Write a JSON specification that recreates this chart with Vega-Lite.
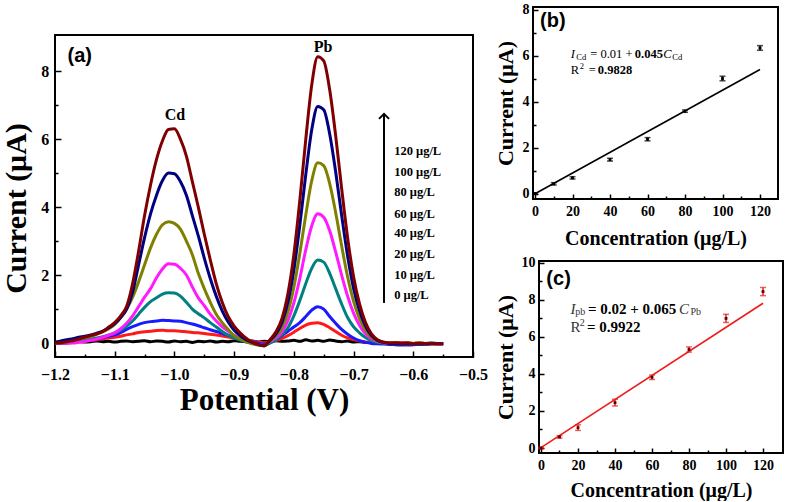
{
"$schema": "https://vega.github.io/schema/vega-lite/v6.json",
"padding": {"left": 0, "top": 1, "right": 0, "bottom": 0},
"background": "white",
"config": {
 "view": {"stroke": "black", "strokeWidth": 2},
 "axis": {"domain": false, "grid": false, "labelFont": "Liberation Serif", "labelFontWeight": "bold", "titleFont": "Liberation Serif", "titleFontWeight": "bold", "labelColor": "black", "titleColor": "black", "tickColor": "black", "tickWidth": 1.5, "labelFlush": false, "labelOverlap": false, "labelBound": false}
},
"columns": 2,
"bounds": "full",
"spacing": -3,
"concat": [
{
 "columns": 1,
 "bounds": "full",
 "spacing": 0,
 "concat": [
 {
  "width": 418, "height": 27,
  "view": {"stroke": null, "fill": "white"},
  "data": {"values": [{}]},
  "mark": {"type": "point", "opacity": 0},
  "encoding": {}
 },
 {
 "width": 418, "height": 322,
 "encoding": {
  "x": {"field": "E", "type": "quantitative", "scale": {"domain": [-1.2, -0.5], "nice": false, "zero": false},
   "axis": {"title": "Potential (V)", "titleFontSize": 31, "labelFontSize": 16, "values": [-1.2,-1.15,-1.1,-1.05,-1.0,-0.95,-0.9,-0.85,-0.8,-0.75,-0.7,-0.65,-0.6,-0.55,-0.5],
    "labelExpr": "abs(datum.value*10 - round(datum.value*10)) < 0.001 ? format(datum.value, '.1f') : ''",
    "tickSize": {"condition": {"test": "abs(datum.value*10 - round(datum.value*10)) < 0.001", "value": -6}, "value": -3},
    "labelPadding": 15.5, "titlePadding": 0}},
  "y": {"field": "I", "type": "quantitative", "scale": {"domain": [-0.41, 9.06], "nice": false, "zero": false},
   "axis": {"title": "Current (μA)", "titleFontSize": 30, "titleY": 173, "labelFontSize": 16, "values": [0,1,2,3,4,5,6,7,8],
    "labelExpr": "datum.value % 2 === 0 ? datum.label : ''",
    "tickSize": {"condition": {"test": "datum.value % 2 === 0", "value": -6}, "value": -3},
    "labelPadding": 12.3, "titlePadding": 9}}
 },
 "layer": [
  {
   "data": {"values": [
    {"E":-1.20,"c0":0.03,"c10":0.0,"c20":0.0,"c40":0.0,"c60":0.0,"c80":0.0,"c100":0.02,"c120":0.0},
    {"E":-1.19,"c0":0.02,"c10":0.0,"c20":0.0,"c40":0.0,"c60":0.0,"c80":0.02,"c100":0.06,"c120":0.01},
    {"E":-1.18,"c0":0.04,"c10":0.0,"c20":0.01,"c40":0.01,"c60":0.0,"c80":0.05,"c100":0.1,"c120":0.04},
    {"E":-1.17,"c0":0.03,"c10":0.02,"c20":0.03,"c40":0.03,"c60":0.0,"c80":0.08,"c100":0.13,"c120":0.07},
    {"E":-1.16,"c0":0.05,"c10":0.04,"c20":0.05,"c40":0.06,"c60":0.02,"c80":0.12,"c100":0.17,"c120":0.12},
    {"E":-1.15,"c0":0.03,"c10":0.06,"c20":0.07,"c40":0.09,"c60":0.05,"c80":0.16,"c100":0.2,"c120":0.18},
    {"E":-1.14,"c0":0.04,"c10":0.08,"c20":0.09,"c40":0.12,"c60":0.08,"c80":0.2,"c100":0.24,"c120":0.22},
    {"E":-1.13,"c0":0.06,"c10":0.1,"c20":0.12,"c40":0.15,"c60":0.12,"c80":0.26,"c100":0.29,"c120":0.27},
    {"E":-1.12,"c0":0.04,"c10":0.13,"c20":0.16,"c40":0.19,"c60":0.17,"c80":0.33,"c100":0.35,"c120":0.34},
    {"E":-1.11,"c0":0.05,"c10":0.15,"c20":0.2,"c40":0.24,"c60":0.23,"c80":0.42,"c100":0.45,"c120":0.47},
    {"E":-1.10,"c0":0.03,"c10":0.17,"c20":0.24,"c40":0.3,"c60":0.3,"c80":0.55,"c100":0.57,"c120":0.6},
    {"E":-1.09,"c0":0.05,"c10":0.2,"c20":0.31,"c40":0.38,"c60":0.42,"c80":0.75,"c100":0.75,"c120":0.8},
    {"E":-1.08,"c0":0.06,"c10":0.24,"c20":0.4,"c40":0.5,"c60":0.58,"c80":1.0,"c100":1.0,"c120":1.08},
    {"E":-1.07,"c0":0.04,"c10":0.27,"c20":0.48,"c40":0.65,"c60":0.8,"c80":1.35,"c100":1.5,"c120":1.75},
    {"E":-1.06,"c0":0.05,"c10":0.31,"c20":0.55,"c40":0.85,"c60":1.07,"c80":1.8,"c100":2.3,"c120":2.7},
    {"E":-1.05,"c0":0.07,"c10":0.33,"c20":0.6,"c40":1.05,"c60":1.35,"c80":2.3,"c100":3.1,"c120":3.75},
    {"E":-1.04,"c0":0.04,"c10":0.35,"c20":0.63,"c40":1.22,"c60":1.6,"c80":2.8,"c100":3.8,"c120":4.65},
    {"E":-1.03,"c0":0.06,"c10":0.37,"c20":0.65,"c40":1.33,"c60":1.92,"c80":3.2,"c100":4.35,"c120":5.4},
    {"E":-1.02,"c0":0.05,"c10":0.38,"c20":0.67,"c40":1.44,"c60":2.18,"c80":3.48,"c100":4.78,"c120":5.95},
    {"E":-1.01,"c0":0.03,"c10":0.36,"c20":0.66,"c40":1.48,"c60":2.33,"c80":3.57,"c100":5.0,"c120":6.28},
    {"E":-1.00,"c0":0.06,"c10":0.36,"c20":0.65,"c40":1.47,"c60":2.32,"c80":3.52,"c100":4.98,"c120":6.3},
    {"E":-0.99,"c0":0.04,"c10":0.35,"c20":0.64,"c40":1.38,"c60":2.2,"c80":3.35,"c100":4.75,"c120":6.0},
    {"E":-0.98,"c0":0.05,"c10":0.33,"c20":0.6,"c40":1.2,"c60":2.0,"c80":3.0,"c100":4.35,"c120":5.5},
    {"E":-0.97,"c0":0.02,"c10":0.31,"c20":0.56,"c40":1.0,"c60":1.65,"c80":2.6,"c100":3.75,"c120":4.75},
    {"E":-0.96,"c0":0.05,"c10":0.3,"c20":0.51,"c40":0.86,"c60":1.33,"c80":2.05,"c100":3.15,"c120":4.0},
    {"E":-0.95,"c0":0.04,"c10":0.28,"c20":0.45,"c40":0.74,"c60":1.1,"c80":1.6,"c100":2.5,"c120":3.2},
    {"E":-0.94,"c0":0.06,"c10":0.26,"c20":0.39,"c40":0.6,"c60":0.85,"c80":1.2,"c100":1.9,"c120":2.45},
    {"E":-0.93,"c0":0.03,"c10":0.24,"c20":0.34,"c40":0.47,"c60":0.65,"c80":0.85,"c100":1.38,"c120":1.75},
    {"E":-0.92,"c0":0.05,"c10":0.21,"c20":0.29,"c40":0.34,"c60":0.48,"c80":0.6,"c100":0.95,"c120":1.2},
    {"E":-0.91,"c0":0.04,"c10":0.18,"c20":0.23,"c40":0.23,"c60":0.35,"c80":0.4,"c100":0.62,"c120":0.78},
    {"E":-0.90,"c0":0.07,"c10":0.15,"c20":0.18,"c40":0.15,"c60":0.23,"c80":0.22,"c100":0.38,"c120":0.5},
    {"E":-0.89,"c0":0.05,"c10":0.12,"c20":0.13,"c40":0.09,"c60":0.14,"c80":0.12,"c100":0.22,"c120":0.3},
    {"E":-0.88,"c0":0.04,"c10":0.09,"c20":0.08,"c40":0.04,"c60":0.07,"c80":0.04,"c100":0.1,"c120":0.14},
    {"E":-0.87,"c0":0.06,"c10":0.06,"c20":0.04,"c40":0.0,"c60":0.02,"c80":-0.02,"c100":0.02,"c120":0.03},
    {"E":-0.86,"c0":0.03,"c10":0.03,"c20":0.0,"c40":-0.04,"c60":-0.04,"c80":-0.06,"c100":-0.04,"c120":-0.04},
    {"E":-0.85,"c0":0.05,"c10":0.01,"c20":-0.03,"c40":-0.07,"c60":-0.07,"c80":-0.08,"c100":-0.08,"c120":-0.08},
    {"E":-0.84,"c0":0.04,"c10":0.03,"c20":0.02,"c40":0.0,"c60":0.04,"c80":0.06,"c100":0.08,"c120":0.1},
    {"E":-0.83,"c0":0.07,"c10":0.07,"c20":0.1,"c40":0.1,"c60":0.15,"c80":0.21,"c100":0.27,"c120":0.33},
    {"E":-0.82,"c0":0.05,"c10":0.14,"c20":0.22,"c40":0.25,"c60":0.33,"c80":0.45,"c100":0.6,"c120":0.72},
    {"E":-0.81,"c0":0.06,"c10":0.22,"c20":0.35,"c40":0.45,"c60":0.66,"c80":0.91,"c100":1.2,"c120":1.45},
    {"E":-0.80,"c0":0.08,"c10":0.32,"c20":0.47,"c40":0.8,"c60":1.18,"c80":1.64,"c100":2.15,"c120":2.6},
    {"E":-0.79,"c0":0.05,"c10":0.43,"c20":0.6,"c40":1.25,"c60":1.9,"c80":2.64,"c100":3.47,"c120":4.2},
    {"E":-0.78,"c0":0.1,"c10":0.53,"c20":0.78,"c40":1.75,"c60":2.75,"c80":3.77,"c100":4.96,"c120":6.0},
    {"E":-0.77,"c0":0.06,"c10":0.58,"c20":0.97,"c40":2.2,"c60":3.45,"c80":4.78,"c100":6.28,"c120":7.6},
    {"E":-0.76,"c0":0.08,"c10":0.6,"c20":1.07,"c40":2.44,"c60":3.8,"c80":5.3,"c100":6.96,"c120":8.42},
    {"E":-0.75,"c0":0.05,"c10":0.55,"c20":1.0,"c40":2.38,"c60":3.7,"c80":5.22,"c100":6.86,"c120":8.3},
    {"E":-0.74,"c0":0.09,"c10":0.45,"c20":0.78,"c40":2.05,"c60":3.3,"c80":4.69,"c100":6.15,"c120":7.45},
    {"E":-0.73,"c0":0.06,"c10":0.34,"c20":0.58,"c40":1.6,"c60":2.68,"c80":3.84,"c100":5.04,"c120":6.1},
    {"E":-0.72,"c0":0.04,"c10":0.23,"c20":0.4,"c40":1.15,"c60":2.0,"c80":2.86,"c100":3.76,"c120":4.55},
    {"E":-0.71,"c0":0.06,"c10":0.15,"c20":0.26,"c40":0.75,"c60":1.38,"c80":1.95,"c100":2.56,"c120":3.1},
    {"E":-0.70,"c0":0.03,"c10":0.1,"c20":0.15,"c40":0.48,"c60":0.88,"c80":1.23,"c100":1.61,"c120":1.95},
    {"E":-0.69,"c0":0.04,"c10":0.06,"c20":0.07,"c40":0.3,"c60":0.52,"c80":0.72,"c100":0.95,"c120":1.15},
    {"E":-0.68,"c0":0.02,"c10":0.03,"c20":0.02,"c40":0.16,"c60":0.27,"c80":0.38,"c100":0.5,"c120":0.6},
    {"E":-0.67,"c0":0.03,"c10":0.02,"c20":-0.01,"c40":0.07,"c60":0.12,"c80":0.17,"c100":0.22,"c120":0.27},
    {"E":-0.66,"c0":0.01,"c10":0.01,"c20":-0.02,"c40":0.02,"c60":0.05,"c80":0.06,"c100":0.08,"c120":0.1},
    {"E":-0.65,"c0":0.02,"c10":0.0,"c20":-0.03,"c40":0.0,"c60":0.01,"c80":0.02,"c100":0.02,"c120":0.03},
    {"E":-0.64,"c0":0.0,"c10":0.0,"c20":-0.04,"c40":-0.01,"c60":0.0,"c80":0.0,"c100":-0.01,"c120":0.0},
    {"E":-0.63,"c0":0.01,"c10":0.01,"c20":-0.05,"c40":-0.02,"c60":-0.01,"c80":0.01,"c100":-0.02,"c120":0.01},
    {"E":-0.62,"c0":-0.01,"c10":0.02,"c20":-0.06,"c40":-0.02,"c60":0.0,"c80":-0.01,"c100":-0.03,"c120":-0.01},
    {"E":-0.61,"c0":0.0,"c10":0.0,"c20":-0.06,"c40":-0.03,"c60":-0.01,"c80":0.0,"c100":-0.02,"c120":0.0},
    {"E":-0.60,"c0":-0.01,"c10":-0.01,"c20":-0.05,"c40":-0.03,"c60":-0.02,"c80":-0.01,"c100":-0.03,"c120":-0.02},
    {"E":-0.59,"c0":0.0,"c10":0.0,"c20":-0.04,"c40":-0.02,"c60":-0.01,"c80":0.0,"c100":-0.02,"c120":-0.01},
    {"E":-0.58,"c0":-0.01,"c10":-0.01,"c20":-0.03,"c40":-0.02,"c60":-0.02,"c80":-0.01,"c100":-0.03,"c120":-0.02},
    {"E":-0.57,"c0":0.0,"c10":-0.01,"c20":-0.02,"c40":-0.01,"c60":-0.01,"c80":-0.01,"c100":-0.02,"c120":-0.02},
    {"E":-0.56,"c0":-0.01,"c10":-0.02,"c20":-0.02,"c40":-0.01,"c60":-0.02,"c80":-0.02,"c100":-0.02,"c120":-0.02},
    {"E":-0.55,"c0":-0.01,"c10":-0.02,"c20":-0.02,"c40":-0.01,"c60":-0.02,"c80":-0.02,"c100":-0.02,"c120":-0.02}
   ]},
   "transform": [{"fold": ["c0","c10","c20","c40","c60","c80","c100","c120"], "as": ["conc", "I"]}],
   "mark": {"type": "line", "strokeWidth": 3, "interpolate": "monotone"},
   "encoding": {
    "color": {"field": "conc", "type": "nominal", "legend": null,
     "scale": {"domain": ["c0","c10","c20","c40","c60","c80","c100","c120"],
      "range": ["#000000","#ff1a1a","#1a1aff","#008080","#ff1aff","#808000","#000080","#800000"]}}
   }
  },
  {
   "data": {"values": [{"E": -1.179, "I": 8.45, "t": "(a)"}]},
   "mark": {"type": "text", "font": "Liberation Sans", "fontWeight": "bold", "fontSize": 20, "align": "left", "baseline": "middle", "color": "black"},
   "encoding": {"text": {"field": "t"}}
  },
  {
   "data": {"values": [{"E": -0.999, "I": 6.71, "t": "Cd"}, {"E": -0.751, "I": 8.71, "t": "Pb"}]},
   "mark": {"type": "text", "font": "Liberation Serif", "fontWeight": "bold", "fontSize": 16, "align": "center", "baseline": "middle", "color": "black"},
   "encoding": {"text": {"field": "t"}}
  },
  {
   "data": {"values": [
    {"E": -0.632, "I": 5.66, "t": "120 μg/L"},
    {"E": -0.632, "I": 5.04, "t": "100 μg/L"},
    {"E": -0.632, "I": 4.43, "t": "80 μg/L"},
    {"E": -0.632, "I": 3.81, "t": "60 μg/L"},
    {"E": -0.632, "I": 3.23, "t": "40 μg/L"},
    {"E": -0.632, "I": 2.62, "t": "20 μg/L"},
    {"E": -0.632, "I": 2.0, "t": "10 μg/L"},
    {"E": -0.632, "I": 1.41, "t": "0 μg/L"}
   ]},
   "mark": {"type": "text", "font": "Liberation Serif", "fontWeight": "bold", "fontSize": 12.5, "align": "left", "baseline": "middle", "color": "black"},
   "encoding": {"text": {"field": "t"}}
  },
  {
   "data": {"values": [{"E": -0.649, "I": 1.18, "I2": 6.72}]},
   "mark": {"type": "rule", "color": "black", "strokeWidth": 2},
   "encoding": {"y2": {"field": "I2"}}
  },
  {
   "data": {"values": [{"E": -0.649, "I": 6.74}]},
   "mark": {"type": "point", "shape": "M-1,1L0,0L1,1", "size": 100, "filled": false, "stroke": "black", "strokeWidth": 2, "opacity": 1},
   "encoding": {}
  }
 ]
 }
 ]
},
{
 "columns": 1,
 "bounds": "full",
 "spacing": 5,
 "concat": [
 {
  "columns": 2,
  "bounds": "full",
  "spacing": 0,
  "concat": [
  {
   "width": 1, "height": 1,
   "view": {"stroke": null, "fill": "white"},
   "data": {"values": [{}]},
   "mark": {"type": "point", "opacity": 0},
   "encoding": {}
  },
  {
  "width": 245, "height": 192,
  "encoding": {
   "x": {"field": "C", "type": "quantitative", "scale": {"domain": [-1.07, 129.6], "nice": false, "zero": false},
    "axis": {"title": "Concentration (μg/L)", "titleFontSize": 20, "labelFontSize": 14, "values": [0,10,20,30,40,50,60,70,80,90,100,110,120],
     "labelExpr": "datum.value % 20 === 0 ? datum.label : ''",
     "tickSize": {"condition": {"test": "datum.value % 20 === 0", "value": -5}, "value": -3},
     "labelPadding": 10, "titlePadding": 8}},
   "y": {"field": "I", "type": "quantitative", "scale": {"domain": [-0.22, 8.13], "nice": false, "zero": false},
    "axis": {"title": "Current (μA)", "titleFontSize": 22, "labelFontSize": 14, "values": [0,1,2,3,4,5,6,7,8],
     "labelExpr": "datum.value % 2 === 0 ? datum.label : ''",
     "tickSize": {"condition": {"test": "datum.value % 2 === 0", "value": -5}, "value": -3},
     "labelPadding": 9, "titlePadding": 5}}
  },
  "layer": [
   {
    "data": {"values": [{"C": 0, "I": 0.01}, {"C": 120, "I": 5.41}]},
    "mark": {"type": "line", "color": "black", "strokeWidth": 1.6}
   },
   {
    "data": {"values": [
     {"C": 0, "I": 0.02, "e": 0.03}, {"C": 10, "I": 0.44, "e": 0.05}, {"C": 20, "I": 0.7, "e": 0.05},
     {"C": 40, "I": 1.49, "e": 0.06}, {"C": 60, "I": 2.38, "e": 0.07}, {"C": 80, "I": 3.6, "e": 0.05},
     {"C": 100, "I": 5.02, "e": 0.1}, {"C": 120, "I": 6.35, "e": 0.1}]},
    "mark": {"type": "errorbar", "color": "black", "thickness": 1.5, "ticks": {"size": 6, "thickness": 1.5, "color": "black"}},
    "encoding": {"yError": {"field": "e"}}
   },
   {
    "data": {"values": [
     {"C": 0, "I": 0.02}, {"C": 10, "I": 0.44}, {"C": 20, "I": 0.7}, {"C": 40, "I": 1.49},
     {"C": 60, "I": 2.38}, {"C": 80, "I": 3.6}, {"C": 100, "I": 5.02}, {"C": 120, "I": 6.35}]},
    "mark": {"type": "point", "shape": "square", "filled": true, "color": "black", "size": 8, "opacity": 1}
   },
   {
    "data": {"values": [{"C": 2.7, "I": 7.52, "t": "(b)"}]},
    "mark": {"type": "text", "font": "Liberation Sans", "fontWeight": "bold", "fontSize": 20, "align": "left", "baseline": "middle", "color": "black"},
    "encoding": {"text": {"field": "t"}}
   },
   {
    "data": {"values": [{"C": 19.0, "I": 6.08, "t": "I"}, {"C": 68.4, "I": 6.08, "t": "C"}]},
    "mark": {"type": "text", "font": "Liberation Serif", "fontStyle": "italic", "fontSize": 12.5, "align": "left", "baseline": "middle", "color": "black"},
    "encoding": {"text": {"field": "t"}}
   },
   {
    "data": {"values": [{"C": 22.0, "I": 5.96, "t": "Cd"}, {"C": 73.2, "I": 5.96, "t": "Cd"}, {"C": 23.8, "I": 5.55, "t": "2"}]},
    "mark": {"type": "text", "font": "Liberation Serif", "fontSize": 8.5, "align": "left", "baseline": "middle", "color": "black"},
    "encoding": {"text": {"field": "t"}}
   },
   {
    "data": {"values": [{"C": 29.5, "I": 6.08, "t": "= 0.01 +"}, {"C": 19.0, "I": 5.4, "t": "R"}, {"C": 28.6, "I": 5.4, "t": "="}]},
    "mark": {"type": "text", "font": "Liberation Serif", "fontSize": 12.5, "align": "left", "baseline": "middle", "color": "black"},
    "encoding": {"text": {"field": "t"}}
   },
   {
    "data": {"values": [{"C": 53.2, "I": 6.08, "t": "0.045"}, {"C": 33.5, "I": 5.4, "t": "0.9828"}]},
    "mark": {"type": "text", "font": "Liberation Serif", "fontWeight": "bold", "fontSize": 12.5, "align": "left", "baseline": "middle", "color": "black"},
    "encoding": {"text": {"field": "t"}}
   }
  ]
  }
  ]
 },
 {
  "columns": 2,
  "bounds": "full",
  "spacing": 0,
  "concat": [
  {
   "width": 1, "height": 1,
   "view": {"stroke": null, "fill": "white"},
   "data": {"values": [{}]},
   "mark": {"type": "point", "opacity": 0},
   "encoding": {}
  },
  {
  "width": 244, "height": 192,
  "encoding": {
   "x": {"field": "C", "type": "quantitative", "scale": {"domain": [-1.08, 130.8], "nice": false, "zero": false},
    "axis": {"title": "Concentration (μg/L)", "titleFontSize": 20, "labelFontSize": 14, "values": [0,10,20,30,40,50,60,70,80,90,100,110,120],
     "labelExpr": "datum.value % 20 === 0 ? datum.label : ''",
     "tickSize": {"condition": {"test": "datum.value % 20 === 0", "value": -5}, "value": -3},
     "labelPadding": 10, "titlePadding": 6}},
   "y": {"field": "I", "type": "quantitative", "scale": {"domain": [-0.27, 10.1], "nice": false, "zero": false},
    "axis": {"title": "Current (μA)", "titleFontSize": 22, "labelFontSize": 14, "values": [0,1,2,3,4,5,6,7,8,9,10],
     "labelExpr": "datum.value % 2 === 0 ? datum.label : ''",
     "tickSize": {"condition": {"test": "datum.value % 2 === 0", "value": -5}, "value": -3},
     "labelPadding": 9, "titlePadding": 4}}
  },
  "layer": [
   {
    "data": {"values": [{"C": 0, "I": 0.02}, {"C": 120, "I": 7.82}]},
    "mark": {"type": "line", "color": "#ee1c1c", "strokeWidth": 1.6}
   },
   {
    "data": {"values": [
     {"C": 0, "I": 0.0, "e": 0.04}, {"C": 10, "I": 0.6, "e": 0.07}, {"C": 20, "I": 1.1, "e": 0.15},
     {"C": 40, "I": 2.45, "e": 0.18}, {"C": 60, "I": 3.82, "e": 0.12}, {"C": 80, "I": 5.32, "e": 0.14},
     {"C": 100, "I": 7.0, "e": 0.22}, {"C": 120, "I": 8.45, "e": 0.22}]},
    "mark": {"type": "errorbar", "color": "#ee1c1c", "thickness": 1.5, "ticks": {"size": 6, "thickness": 1.5, "color": "#ee1c1c"}},
    "encoding": {"yError": {"field": "e"}}
   },
   {
    "data": {"values": [
     {"C": 0, "I": 0.0}, {"C": 10, "I": 0.6}, {"C": 20, "I": 1.1}, {"C": 40, "I": 2.45},
     {"C": 60, "I": 3.82}, {"C": 80, "I": 5.32}, {"C": 100, "I": 7.0}, {"C": 120, "I": 8.45}]},
    "mark": {"type": "point", "shape": "square", "filled": true, "color": "#600000", "size": 8, "opacity": 1}
   },
   {
    "data": {"values": [{"C": 2.9, "I": 9.14, "t": "(c)"}]},
    "mark": {"type": "text", "font": "Liberation Sans", "fontWeight": "bold", "fontSize": 20, "align": "left", "baseline": "middle", "color": "black"},
    "encoding": {"text": {"field": "t"}}
   },
   {
    "data": {"values": [{"C": 16.0, "I": 7.5, "t": "I"}, {"C": 74.6, "I": 7.5, "t": "C"}]},
    "mark": {"type": "text", "font": "Liberation Serif", "fontStyle": "italic", "fontSize": 15, "align": "left", "baseline": "middle", "color": "#333333"},
    "encoding": {"text": {"field": "t"}}
   },
   {
    "data": {"values": [{"C": 18.5, "I": 7.34, "t": "pb"}, {"C": 80.8, "I": 7.34, "t": "Pb"}, {"C": 20.9, "I": 6.74, "t": "2"}]},
    "mark": {"type": "text", "font": "Liberation Serif", "fontSize": 10, "align": "left", "baseline": "middle", "color": "#333333"},
    "encoding": {"text": {"field": "t"}}
   },
   {
    "data": {"values": [{"C": 16.0, "I": 6.55, "t": "R"}]},
    "mark": {"type": "text", "font": "Liberation Serif", "fontSize": 15, "align": "left", "baseline": "middle", "color": "#333333"},
    "encoding": {"text": {"field": "t"}}
   },
   {
    "data": {"values": [{"C": 25.4, "I": 7.5, "t": "= 0.02 + 0.065"}, {"C": 24.8, "I": 6.55, "t": "= 0.9922"}]},
    "mark": {"type": "text", "font": "Liberation Serif", "fontWeight": "bold", "fontSize": 15, "align": "left", "baseline": "middle", "color": "black"},
    "encoding": {"text": {"field": "t"}}
   }
  ]
  }
  ]
 }
 ]
}
]
}
